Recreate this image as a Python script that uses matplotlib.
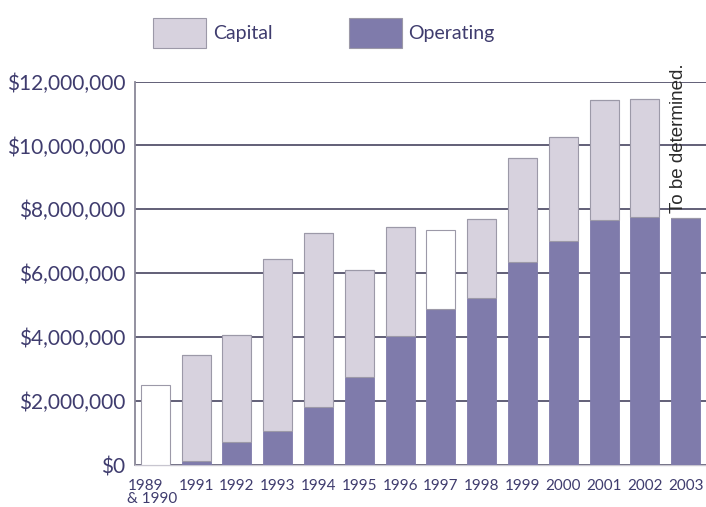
import matplotlib
matplotlib.use("Agg")
import matplotlib.pyplot as plt
from matplotlib.patches import Patch
from matplotlib.ticker import FuncFormatter, MultipleLocator
import matplotlib.transforms as mtransforms
import numpy as np

plt.rcParams['font.family'] = ['Lato', 'DejaVu Sans']

years = ["1989\n& 1990", "1991", "1992", "1993", "1994", "1995", "1996",
         "1997", "1998", "1999", "2000", "2001", "2002", "2003"]
# values in dollars (millions)
operating = [0.00, 0.12, 0.73, 1.05, 1.83, 2.74, 4.05, 4.88, 5.22, 6.36, 7.02, 7.67, 7.75, 7.73]
capital = [0.00, 3.33, 3.34, 5.41, 5.42, 3.35, 3.39, 0.00, 2.48, 3.24, 3.25, 3.75, 3.71, 0.00]
unallocated = [2.51, 0.00, 0.00, 0.00, 0.00, 0.00, 0.00, 2.46, 0.00, 0.00, 0.00, 0.00, 0.00, 0.00]

op = np.array(operating) * 1e6
cap = np.array(capital) * 1e6
una = np.array(unallocated) * 1e6

TEXT = "#3f3c6e"
CAP = "#d7d2de"
OPC = "#7f7bab"
GRID = "#55536c"
EDGE = "#9c99a8"

fig = plt.figure(figsize=(7.06, 5.07), dpi=100)
ax = fig.add_axes([135/706, 42/507, 571/706, 383.5/507])

x = np.arange(len(years))
w = 0.71
ax.bar(x, op, w, color=OPC, edgecolor=OPC, linewidth=0.6, zorder=3)
ax.bar(x, cap, w, bottom=op, color=CAP, edgecolor=EDGE, linewidth=0.8, zorder=3)
ax.bar(x, una, w, bottom=op + cap, color="white", edgecolor=EDGE, linewidth=0.8, zorder=3)

ax.set_xlim(-0.5, len(years) - 0.5)
ax.set_ylim(0, 12e6)
ax.yaxis.set_major_locator(MultipleLocator(2e6))
ax.yaxis.set_major_formatter(FuncFormatter(lambda v, p: "${:,.0f}".format(v)))
ax.grid(axis='y', color=GRID, linewidth=1.3, zorder=0)
ax.set_axisbelow(True)

for s in ["right", "top"]:
    ax.spines[s].set_visible(False)
ax.spines["left"].set_color("#8a8898")
ax.spines["left"].set_linewidth(1.3)
ax.spines["bottom"].set_color("#c8c6d0")
ax.spines["bottom"].set_linewidth(1.0)

ax.set_xticks(x)
ax.set_xticklabels(years, fontsize=11, color=TEXT, linespacing=0.9)
ax.tick_params(axis='x', length=0, pad=10)
ax.tick_params(axis='y', length=0, pad=7, labelsize=15, labelcolor=TEXT)
first = ax.get_xticklabels()[0]
first.set_multialignment('left')
first.set_transform(first.get_transform() +
                    mtransforms.ScaledTranslation(-2.0/72, 0, fig.dpi_scale_trans))

ax.text(x[-1] - 0.18, 7.9e6, "To be determined.", rotation=90, ha='center', va='bottom',
        fontsize=13.5, family=['Liberation Sans', 'DejaVu Sans'], color="#2a2a2a", zorder=5)

handles = [Patch(facecolor=CAP, edgecolor=EDGE, linewidth=0.8, label="Capital"),
           Patch(facecolor=OPC, edgecolor=EDGE, linewidth=0.8, label="Operating")]
fig.legend(handles=handles, loc='center left', bbox_to_anchor=(153/706, 1 - 33/507),
           ncol=2, frameon=False, fontsize=14, labelcolor=TEXT,
           handlelength=2.73, handleheight=2.06, handletextpad=0.36, columnspacing=3.9,
           borderpad=0.0, borderaxespad=0.0)

fig.savefig("out.png", dpi=100)
